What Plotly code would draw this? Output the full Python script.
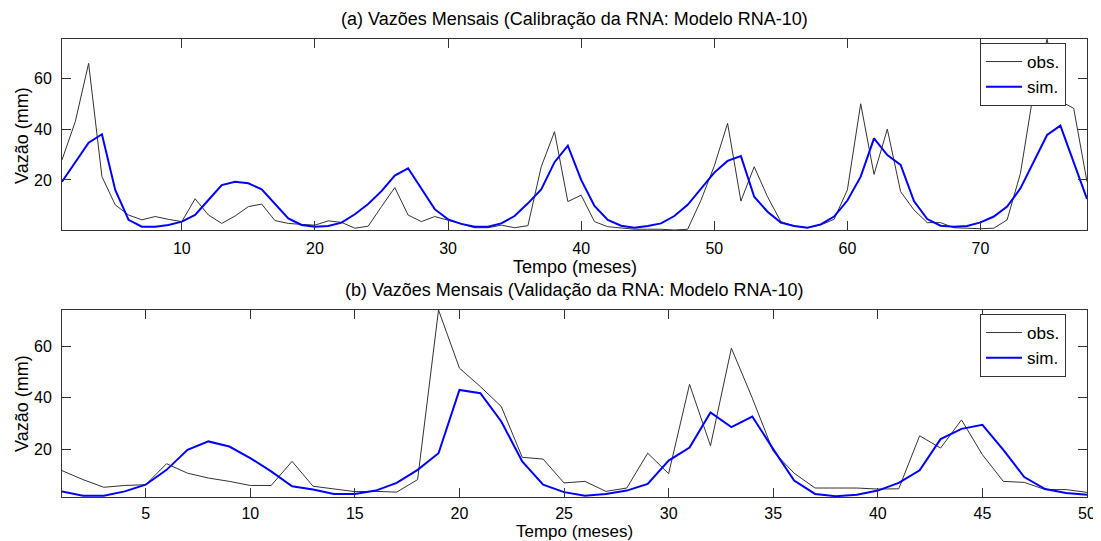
import plotly.graph_objects as go

# (a) Calibração: months 1..78
meses_a = list(range(1, 79))
obs_a = [27.9, 43.0, 65.9, 21.3, 10.2, 6.2, 4.3, 5.6, 4.5, 3.6,
         12.6, 6.2, 2.9, 5.8, 9.5, 10.5, 4.0, 2.9, 2.5, 2.2,
         3.9, 3.3, 1.0, 1.8, 9.5, 17.0, 6.2, 3.6, 5.6, 4.3,
         2.7, 1.2, 1.2, 2.2, 1.2, 2.0, 25.2, 39.0, 11.5, 14.0,
         3.6, 1.6, 1.0, 0.6, 0.6, 0.6, 0.3, 0.6, 12.0, 25.5,
         42.3, 11.7, 25.2, 13.4, 3.6, 1.9, 1.2, 2.3, 4.5, 16.1,
         50.0, 22.2, 40.0, 15.4, 8.2, 3.2, 3.2, 1.2, 1.0, 0.8,
         1.0, 4.3, 22.6, 55.0, 75.4, 51.0, 48.2, 19.3]
sim_a = [19.3, 27.2, 34.7, 38.0, 16.1, 4.3, 1.6, 1.6, 2.3, 3.6,
         6.2, 12.1, 18.0, 19.3, 18.7, 16.3, 10.8, 4.9, 2.3, 1.6,
         1.9, 3.2, 6.5, 10.5, 15.6, 21.7, 24.6, 16.7, 8.5, 4.5,
         2.7, 1.6, 1.6, 2.9, 5.8, 10.8, 16.3, 27.0, 33.5, 20.0,
         9.8, 4.3, 2.0, 1.2, 1.9, 2.9, 5.8, 10.2, 16.7, 22.9,
         27.5, 29.4, 13.4, 7.5, 3.2, 1.9, 1.2, 2.5, 5.6, 11.9,
         21.3, 36.4, 29.8, 25.9, 11.7, 4.6, 2.0, 1.6, 1.9, 3.3,
         5.6, 9.5, 16.7, 27.2, 37.7, 41.4, 27.2, 12.5]

# (b) Validação: months 1..50
meses_b = list(range(1, 51))
obs_b = [11.6, 8.1, 5.1, 5.8, 6.1, 14.3, 10.6, 8.7, 7.4, 5.8,
         5.8, 15.2, 5.5, 4.4, 3.4, 3.5, 3.2, 8.1, 74.3, 51.6,
         44.4, 36.6, 16.8, 16.1, 6.8, 7.4, 3.5, 4.8, 18.4, 10.4,
         45.3, 21.3, 59.4, 39.9, 19.1, 10.6, 4.8, 4.8, 4.8, 4.4,
         4.5, 25.2, 20.4, 31.4, 17.8, 7.4, 7.0, 4.2, 4.2, 3.1]
sim_b = [3.5, 1.8, 1.8, 3.5, 6.1, 11.9, 19.7, 23.0, 21.0, 16.5,
         11.3, 5.5, 4.2, 2.5, 2.5, 3.8, 6.8, 11.9, 18.4, 43.1,
         41.8, 30.8, 15.2, 6.1, 3.2, 1.8, 2.5, 3.8, 6.4, 15.5,
         20.6, 34.3, 28.6, 32.7, 20.0, 7.7, 2.5, 1.6, 2.2, 3.8,
         6.8, 11.7, 23.9, 27.9, 29.5, 19.7, 9.1, 4.4, 2.9, 2.2]

ticks_xa = [10, 20, 30, 40, 50, 60, 70]
ticks_xb = [5, 10, 15, 20, 25, 30, 35, 40, 45, 50]
ticks_y = [20, 40, 60]

# page body has an 8px margin: design in window pixels, convert to figure pixels
OFF = 8
WIN_W, WIN_H = 1101, 541
W, H = WIN_W - OFF, WIN_H - OFF
PL, PR = 62, 1087            # plot left/right in window pixels
ML, MR = PL - OFF, WIN_W - PR
PW = W - ML - MR

def fy(px):
    return (H - (px - OFF)) / H

def fx(px):
    return (px - PL) / PW

OBS_COLOR = "#333333"
SIM_COLOR = "#0000ff"
FRAME = "#333333"
FONT = "Liberation Sans, Arial, sans-serif"

fig = go.Figure()
fig.add_trace(go.Scatter(x=meses_a, y=obs_a, mode="lines", name="obs.",
                         line=dict(color=OBS_COLOR, width=1), legend="legend",
                         xaxis="x", yaxis="y"))
fig.add_trace(go.Scatter(x=meses_a, y=sim_a, mode="lines", name="sim.",
                         line=dict(color=SIM_COLOR, width=2), legend="legend",
                         xaxis="x", yaxis="y"))
fig.add_trace(go.Scatter(x=meses_b, y=obs_b, mode="lines", name="obs.",
                         line=dict(color=OBS_COLOR, width=1), legend="legend2",
                         xaxis="x2", yaxis="y2"))
fig.add_trace(go.Scatter(x=meses_b, y=sim_b, mode="lines", name="sim.",
                         line=dict(color=SIM_COLOR, width=2), legend="legend2",
                         xaxis="x2", yaxis="y2"))

axis_common = dict(showgrid=False, zeroline=False, showline=True, linecolor=FRAME,
                   linewidth=1, mirror="ticks", ticks="inside", ticklen=9,
                   tickcolor=FRAME, tickwidth=1,
                   tickfont=dict(family=FONT, size=16, color="black"))

legend_common = dict(bgcolor="white", bordercolor=FRAME, borderwidth=1,
                     font=dict(family=FONT, size=17, color="black"),
                     xanchor="right", yanchor="top", tracegroupgap=0,
                     itemwidth=36)

TFONT = dict(family=FONT, size=18, color="black")
BFONT = dict(family=FONT, size=17, color="black")

fig.update_layout(
    width=W, height=H,
    margin=dict(l=ML, r=MR, t=0, b=0),
    paper_bgcolor="white", plot_bgcolor="white",
    showlegend=True,
    xaxis=dict(domain=[0, 1], range=[1, 78], tickvals=ticks_xa, anchor="y",
               ticklabelstandoff=4, **axis_common),
    yaxis=dict(domain=[fy(230), fy(39)], range=[0.3, 75.5], tickvals=ticks_y, anchor="x",
               ticklabelstandoff=6, **axis_common),
    xaxis2=dict(domain=[0, 1], range=[1, 50], tickvals=ticks_xb, anchor="y2",
                ticklabelstandoff=2, **axis_common),
    yaxis2=dict(domain=[fy(497), fy(310)], range=[1.3, 74.3], tickvals=ticks_y, anchor="x2",
                ticklabelstandoff=6, **axis_common),
    legend=dict(x=fx(1066), y=fy(43), **legend_common),
    legend2=dict(x=fx(1066), y=fy(314), **legend_common),
    annotations=[
        dict(text="(a) Vazões Mensais (Calibração da RNA: Modelo RNA-10)", xref="paper", yref="paper",
             x=0.5, y=fy(19), xanchor="center", yanchor="middle", showarrow=False, font=TFONT),
        dict(text="(b) Vazões Mensais (Validação da RNA: Modelo RNA-10)", xref="paper", yref="paper",
             x=0.5, y=fy(290), xanchor="center", yanchor="middle", showarrow=False, font=TFONT),
        dict(text="Tempo (meses)", xref="paper", yref="paper", x=0.5, y=fy(267),
             xanchor="center", yanchor="middle", showarrow=False, font=TFONT),
        dict(text="Tempo (meses)", xref="paper", yref="paper", x=0.5, y=fy(531),
             xanchor="center", yanchor="middle", showarrow=False, font=BFONT),
        dict(text="Vazão (mm)", xref="paper", yref="paper", x=fx(22), y=fy(136),
             xanchor="center", yanchor="middle", textangle=-90, showarrow=False, font=TFONT),
        dict(text="Vazão (mm)", xref="paper", yref="paper", x=fx(22), y=fy(404),
             xanchor="center", yanchor="middle", textangle=-90, showarrow=False, font=TFONT),
    ],
)

fig.write_html("out.html")
